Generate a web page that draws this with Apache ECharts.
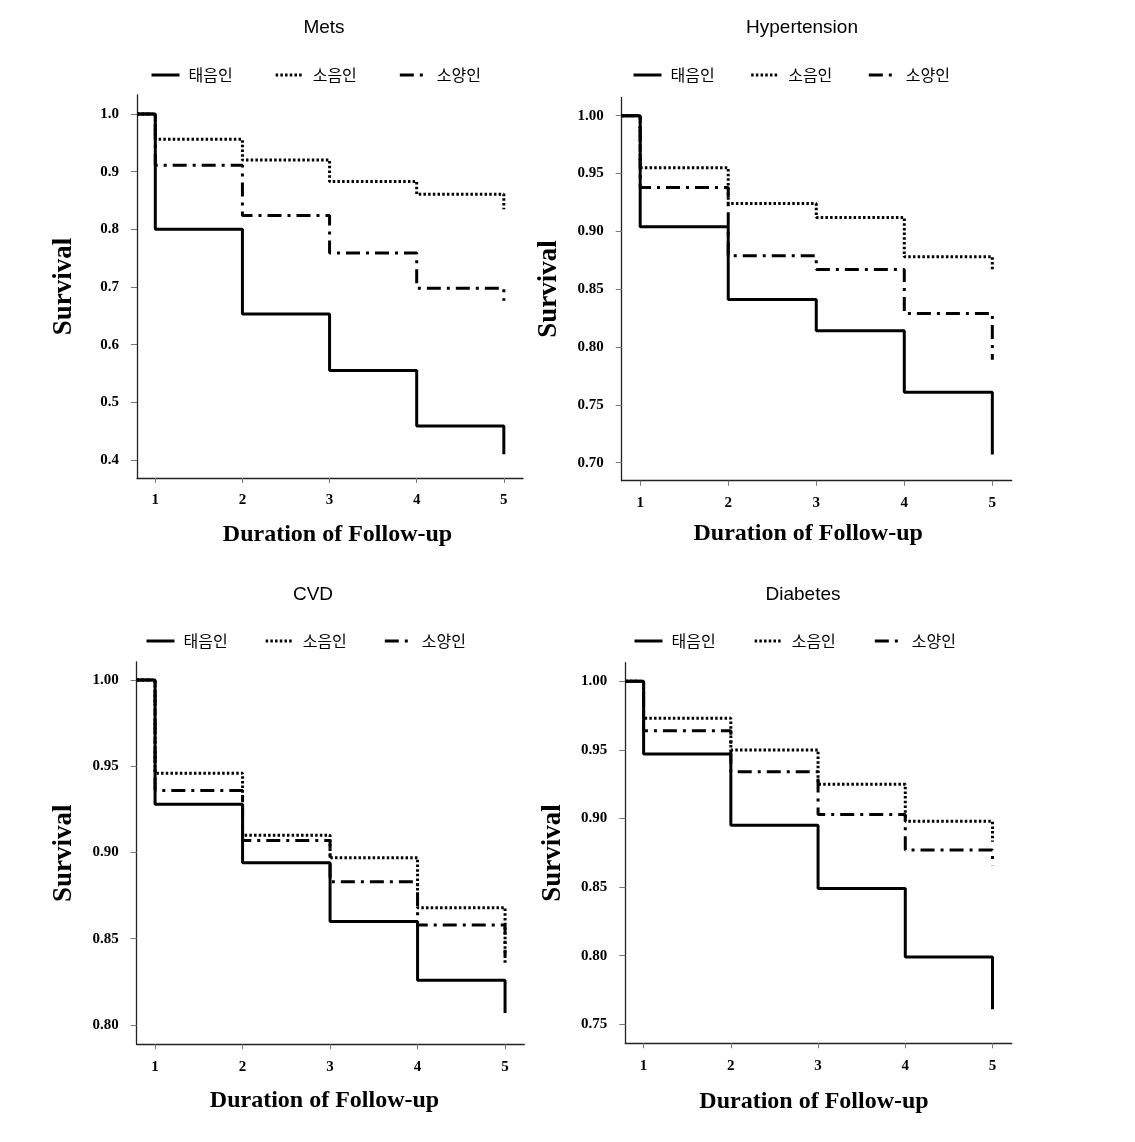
<!DOCTYPE html>
<html>
<head>
<meta charset="utf-8">
<style>
html,body{margin:0;padding:0;background:#fff;}
#chart{width:1135px;height:1142px;}
</style>
<script src="https://cdn.jsdelivr.net/npm/echarts@6/dist/echarts.min.js"></script>
</head>
<body>
<div id="chart"></div>
<script>
// ---- data ----
const groupNames = ['태음인', '소음인', '소양인'];
const panelTitles = ['Mets', 'Hypertension', 'CVD', 'Diabetes'];
const times = [0.79, 1, 2, 3, 4, 5];
const xTicks = [1, 2, 3, 4, 5];

const metsTae    = [1.00, 0.800, 0.653, 0.555, 0.459, 0.410];
const metsSoeum  = [1.00, 0.956, 0.920, 0.883, 0.861, 0.835];
const metsSoyang = [1.00, 0.911, 0.824, 0.759, 0.698, 0.676];

const hypTae     = [1.00, 0.904, 0.841, 0.814, 0.761, 0.707];
const hypSoeum   = [1.00, 0.955, 0.924, 0.912, 0.878, 0.867];
const hypSoyang  = [1.00, 0.938, 0.879, 0.867, 0.829, 0.789];

const cvdTae     = [1.00, 0.928, 0.894, 0.860, 0.826, 0.807];
const cvdSoeum   = [1.00, 0.946, 0.910, 0.897, 0.868, 0.835];
const cvdSoyang  = [1.00, 0.936, 0.907, 0.883, 0.858, 0.840];

const diaTae     = [1.00, 0.947, 0.895, 0.849, 0.799, 0.761];
const diaSoeum   = [1.00, 0.973, 0.950, 0.925, 0.898, 0.883];
const diaSoyang  = [1.00, 0.964, 0.934, 0.903, 0.877, 0.866];

const metsYTicks = [0.4, 0.5, 0.6, 0.7, 0.8, 0.9, 1.0];
const hypYTicks  = [0.70, 0.75, 0.80, 0.85, 0.90, 0.95, 1.00];
const cvdYTicks  = [0.80, 0.85, 0.90, 0.95, 1.00];
const diaYTicks  = [0.75, 0.80, 0.85, 0.90, 0.95, 1.00];

// ---- layout ----
const panels = [
  {title: panelTitles[0], tx: 324, ty: 18, grid: {left: 137, top: 95, width: 386, height: 383},
   ymin: 0.3688, ymax: 1.0329, yTicks: metsYTicks, dec: 1, series: [metsTae, metsSoeum, metsSoyang],
   legendLeft: 150, legendTop: 67, legendGap: 41.5, xNamePad: 15, xNameGap: 45},
  {title: panelTitles[1], tx: 802, ty: 18, grid: {left: 621.7, top: 97.5, width: 390, height: 383.2},
   ymin: 0.68445, ymax: 1.01573, yTicks: hypYTicks, dec: 2, series: [hypTae, hypSoeum, hypSoyang],
   legendLeft: 632, legendTop: 67, legendGap: 35, xNamePad: -17, xNameGap: 41},
  {title: panelTitles[2], tx: 313, ty: 585, grid: {left: 136.7, top: 662, width: 387.6, height: 382.3},
   ymin: 0.78881, ymax: 1.01043, yTicks: cvdYTicks, dec: 2, series: [cvdTae, cvdSoeum, cvdSoyang],
   legendLeft: 145, legendTop: 633, legendGap: 36.5, xNamePad: -12, xNameGap: 44},
  {title: panelTitles[3], tx: 803, ty: 585, grid: {left: 625.3, top: 662.7, width: 386.4, height: 380.6},
   ymin: 0.73615, ymax: 1.01356, yTicks: diaYTicks, dec: 2, series: [diaTae, diaSoeum, diaSoyang],
   legendLeft: 633, legendTop: 633, legendGap: 37.5, xNamePad: -9, xNameGap: 46}
];

const lineStyles = [
  {color: '#000', width: 3, type: 'solid'},
  {color: '#000', width: 3, type: [2.5, 2.2]},
  {color: '#000', width: 3, type: [14, 6, 3, 6]}
];

const titleOpt = [], gridOpt = [], xAxisOpt = [], yAxisOpt = [], seriesOpt = [], legendOpt = [];
const serif = 'Liberation Serif, Times New Roman, serif';

panels.forEach((p, i) => {
  titleOpt.push({
    text: p.title, left: p.tx, top: p.ty, textAlign: 'center', padding: 0,
    textStyle: {fontFamily: 'Liberation Sans, Arial, sans-serif', fontSize: 19, fontWeight: 'normal', color: '#000'}
  });
  gridOpt.push(Object.assign({containLabel: false}, p.grid));
  xAxisOpt.push({
    type: 'value', gridIndex: i, min: 0.79, max: 5.22,
    name: 'Duration of Follow-up', nameLocation: 'middle', nameGap: p.xNameGap,
    nameTextStyle: {fontFamily: serif, fontSize: 24, fontWeight: 'bold', color: '#000',
      padding: p.xNamePad >= 0 ? [0, 0, 0, p.xNamePad] : [0, -p.xNamePad, 0, 0]},
    splitLine: {show: false},
    axisLine: {show: true, onZero: false, lineStyle: {color: '#222', width: 1.3}},
    axisTick: {show: true, length: 5, customValues: xTicks, lineStyle: {color: '#777', width: 1}},
    axisLabel: {customValues: xTicks, margin: 15, fontFamily: serif, fontSize: 15, fontWeight: 'bold', color: '#000',
      formatter: v => String(v)}
  });
  yAxisOpt.push({
    type: 'value', gridIndex: i, min: p.ymin, max: p.ymax,
    name: 'Survival', nameLocation: 'middle', nameGap: 59, nameRotate: 90,
    nameTextStyle: {fontFamily: serif, fontSize: 27, fontWeight: 'bold', color: '#000'},
    splitLine: {show: false},
    axisLine: {show: true, onZero: false, lineStyle: {color: '#222', width: 1.3}},
    axisTick: {show: true, length: 6, customValues: p.yTicks, lineStyle: {color: '#777', width: 1}},
    axisLabel: {customValues: p.yTicks, margin: 18, fontFamily: serif, fontSize: 15, fontWeight: 'bold', color: '#000',
      formatter: v => Number(v).toFixed(p.dec)}
  });
  p.series.forEach((vals, k) => {
    seriesOpt.push({
      name: groupNames[k], type: 'line', xAxisIndex: i, yAxisIndex: i,
      step: 'end', symbol: 'none', showSymbol: false, color: '#000',
      itemStyle: {color: '#000'},
      lineStyle: lineStyles[k], z: 3 + k,
      data: times.map((t, j) => [t, vals[j]])
    });
  });
  legendOpt.push({
    data: groupNames, left: p.legendLeft, top: p.legendTop, orient: 'horizontal',
    padding: 0, itemWidth: 28, itemHeight: 16, itemGap: p.legendGap, selectedMode: false,
    itemStyle: {opacity: 0},
    lineStyle: {width: 3},
    textStyle: {fontFamily: 'Noto Sans CJK KR, sans-serif', fontSize: 16, color: '#000', padding: [0, 0, 0, 4]}
  });
});

const chart = echarts.init(document.getElementById('chart'), null, {renderer: 'canvas'});
chart.setOption({
  backgroundColor: '#fff',
  animation: false,
  title: titleOpt,
  legend: legendOpt,
  grid: gridOpt,
  xAxis: xAxisOpt,
  yAxis: yAxisOpt,
  series: seriesOpt
});
</script>
</body>
</html>
